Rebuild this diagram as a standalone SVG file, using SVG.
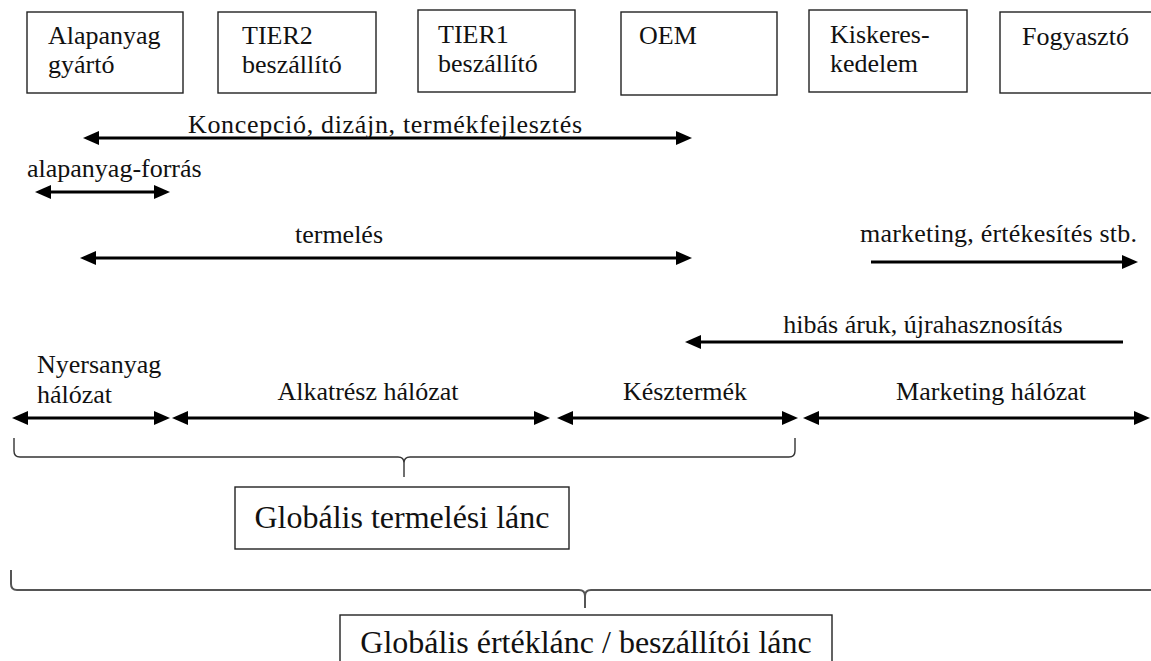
<svg xmlns="http://www.w3.org/2000/svg" width="1151" height="661" viewBox="0 0 1151 661">
<defs>
<marker id="ah" viewBox="0 0 16 14" refX="8" refY="7" markerWidth="16" markerHeight="14" markerUnits="userSpaceOnUse" orient="auto-start-reverse">
<path d="M0,0 L16,7 L0,14 z" fill="#000"/>
</marker>
</defs>
<style>
.box{fill:#fff;stroke:#222;stroke-width:1.4}
text{font-family:'Liberation Serif','Times New Roman','DejaVu Serif',serif;fill:#111}
.t{font-size:26px}
.big{font-size:32px}
.a{stroke:#000;stroke-width:3;fill:none}
.br{stroke:#333;stroke-width:1.4;fill:none}
</style>
<rect width="1151" height="661" fill="#fff"/>
<g id="n-alapanyag"><rect class="box" x="27" y="12" width="156" height="81"/><text class="t" x="48" y="44">Alapanyag</text><text class="t" x="48" y="73">gyártó</text></g>
<g id="n-tier2"><rect class="box" x="218" y="12" width="158" height="81"/><text class="t" x="242" y="44">TIER2</text><text class="t" x="242" y="73">beszállító</text></g>
<g id="n-tier1"><rect class="box" x="418" y="10" width="157" height="82"/><text class="t" x="438" y="43">TIER1</text><text class="t" x="438" y="72">beszállító</text></g>
<g id="n-oem"><rect class="box" x="621" y="12" width="156" height="83"/><text class="t" x="639" y="44">OEM</text></g>
<g id="n-kisker"><rect class="box" x="809" y="10" width="158" height="82"/><text class="t" x="830" y="43">Kiskeres-</text><text class="t" x="830" y="72">kedelem</text></g>
<g id="n-fogyaszto"><rect class="box" x="1000" y="12" width="160" height="81"/><text class="t" x="1022" y="45">Fogyasztó</text></g>

<g id="connectors">
<line class="a" x1="91" y1="138" x2="684" y2="138" marker-start="url(#ah)" marker-end="url(#ah)"/>
<line class="a" x1="43" y1="192" x2="162" y2="192" marker-start="url(#ah)" marker-end="url(#ah)"/>
<line class="a" x1="88" y1="258" x2="684" y2="258" marker-start="url(#ah)" marker-end="url(#ah)"/>
<line class="a" x1="871" y1="262" x2="1130" y2="262" marker-end="url(#ah)"/>
<line class="a" x1="1123" y1="342" x2="693" y2="342" marker-end="url(#ah)"/>
<line class="a" x1="20" y1="418" x2="162" y2="418" marker-start="url(#ah)" marker-end="url(#ah)"/>
<line class="a" x1="180" y1="418" x2="542" y2="418" marker-start="url(#ah)" marker-end="url(#ah)"/>
<line class="a" x1="565" y1="418" x2="790" y2="418" marker-start="url(#ah)" marker-end="url(#ah)"/>
<line class="a" x1="811" y1="418" x2="1142" y2="418" marker-start="url(#ah)" marker-end="url(#ah)"/>
<path class="br" d="M14,438 L14,451 Q14,457 20,457 L398,457 Q404,457 404,463 L404,477 M404,463 Q404,457 410,457 L789,457 Q795,457 795,451 L795,438"/>
<path class="br" d="M11,570 L11,584 Q11,590 17,590 L579,590 Q585,590 585,596 L585,608 M585,596 Q585,590 591,590 L1151,590" style="stroke:#555;stroke-width:2"/>
</g>

<g id="labels">
<text class="t" x="188" y="133" textLength="394" lengthAdjust="spacing">Koncepció, dizájn, termékfejlesztés</text>
<text class="t" x="27" y="177">alapanyag-forrás</text>
<text class="t" x="339" y="243" text-anchor="middle">termelés</text>
<text class="t" x="860" y="242" textLength="277" lengthAdjust="spacing">marketing, értékesítés stb.</text>
<text class="t" x="923" y="333" text-anchor="middle">hibás áruk, újrahasznosítás</text>
<text class="t" x="37" y="373">Nyersanyag</text>
<text class="t" x="37" y="403">hálózat</text>
<text class="t" x="368" y="400" text-anchor="middle">Alkatrész hálózat</text>
<text class="t" x="685" y="400" text-anchor="middle">Késztermék</text>
<text class="t" x="991" y="400" text-anchor="middle">Marketing hálózat</text>
</g>

<g id="n-gtl"><rect class="box" x="235" y="487" width="334" height="62"/><text class="big" x="402" y="528" text-anchor="middle">Globális termelési lánc</text></g>
<g id="n-gel"><rect class="box" x="340" y="615" width="492" height="70"/><text class="big" x="586" y="653" text-anchor="middle">Globális értéklánc / beszállítói lánc</text></g>
</svg>
